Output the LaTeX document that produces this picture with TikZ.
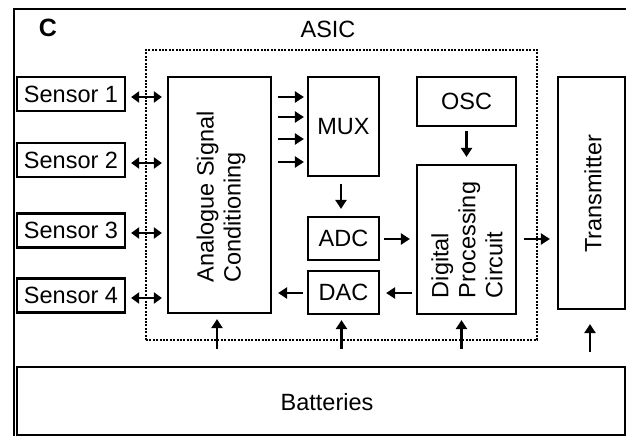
\documentclass[tikz,border=0pt]{standalone}
\usepackage{fontspec}
\setmainfont{Liberation Sans}
\usetikzlibrary{arrows.meta}
\begin{document}
\begin{tikzpicture}[x=1pt,y=-1pt,
  box/.style={draw,line width=2.2pt,rectangle,inner sep=0pt,fill=white},
  txt/.style={font=\fontsize{23.5}{27}\selectfont},
  clbl/.style={font=\fontsize{25}{28}\selectfont\bfseries},
  arr/.style={line width=2.9pt,-{Triangle[length=9pt,width=11pt]}},
  dbl/.style={line width=2.9pt,{Triangle[length=8pt,width=11pt]}-{Triangle[length=8pt,width=11pt]}},
  asicline/.style={line width=2pt,dash pattern=on 2pt off 1.4pt}]
\useasboundingbox (0,0) rectangle (626,436);
% outer frame
\coordinate (fa) at (14,436);
\coordinate (fb) at (14,9);
\coordinate (fc) at (626,9);
\draw[line width=2.8pt] (fa) -- (fb) -- (fc);
\node[clbl] (lc) at (48,28) {C};
\node[txt] (asiclbl) at (328,29) {ASIC};
% ASIC dotted box
\node[asicline,draw,rectangle,minimum width=391pt,minimum height=290pt,inner sep=0pt] (asic) at (341.5,195) {};
% sensors
\node[box,txt,minimum width=108pt,minimum height=34pt] (s1) at (71,94) {Sensor 1};
\node[box,txt,minimum width=108pt,minimum height=34pt] (s2) at (71,160) {Sensor 2};
\node[box,txt,minimum width=108pt,minimum height=34pt] (s3) at (71,230.5) {Sensor 3};
\node[box,txt,minimum width=108pt,minimum height=34pt] (s4) at (71,295.5) {Sensor 4};
% blocks
\node[box,minimum width=103pt,minimum height=236pt] (asc) at (219.5,195) {};
\node[txt,rotate=90,align=left] (asct) at (221,197) {Analogue Signal\\Conditioning};
\node[box,txt,minimum width=71pt,minimum height=99pt] (mux) at (343.5,126.5) {MUX};
\node[box,txt,minimum width=71pt,minimum height=43pt] (adc) at (343.5,238.5) {ADC};
\node[box,txt,minimum width=71pt,minimum height=43pt] (dac) at (343.5,292.5) {DAC};
\node[box,txt,minimum width=99pt,minimum height=49pt] (osc) at (466.5,101.5) {OSC};
\node[box,minimum width=99pt,minimum height=149pt] (dpc) at (466.5,239.5) {};
\node[txt,rotate=90,align=left] (dpct) at (467,240) {Digital\\Processing\\Circuit};
\node[box,minimum width=67pt,minimum height=232pt] (tx) at (591.5,193) {};
\node[txt,rotate=90] (txt1) at (593,194) {Transmitter};
\node[box,txt,minimum width=608pt,minimum height=68pt] (bat) at (321,401) {};
\node[txt] (batt) at (327,402) {Batteries};
% sensor double arrows
\draw[dbl,shorten <=5pt,shorten >=5pt] (s1.east |- 0,97) -- (asc.west |- 0,97);
\draw[dbl,shorten <=5pt,shorten >=5pt] (s2.east |- 0,163) -- (asc.west |- 0,163);
\draw[dbl,shorten <=5pt,shorten >=5pt] (s3.east |- 0,233) -- (asc.west |- 0,233);
\draw[dbl,shorten <=5pt,shorten >=5pt] (s4.east |- 0,298) -- (asc.west |- 0,298);
% ASC -> MUX
\foreach \yy in {97,117,139,162}
  \draw[arr,shorten <=6pt,shorten >=3pt] (asc.east |- 0,\yy) -- (mux.west |- 0,\yy);
% MUX -> ADC
\draw[arr,shorten <=7pt,shorten >=7pt] (mux.south -| 341,0) -- (adc.north -| 341,0);
% ADC -> DPC
\draw[arr,shorten <=4pt,shorten >=6pt] (adc.east |- 0,239) -- (dpc.west |- 0,239);
% DPC -> DAC
\draw[arr,shorten <=4pt,shorten >=6pt] (dpc.west |- 0,293) -- (dac.east |- 0,293);
% DAC -> ASC
\draw[arr,shorten <=4pt,shorten >=6pt] (dac.west |- 0,293) -- (asc.east |- 0,293);
% OSC -> DPC
\draw[arr,shorten <=4pt,shorten >=7pt] (osc.south) -- (dpc.north);
% DPC -> TX
\draw[arr,shorten <=7pt,shorten >=7pt] (dpc.east |- 0,239) -- (tx.west |- 0,239);
% battery supply arrows
\draw[arr,shorten <=17pt,shorten >=5pt] (bat.north -| 217,0) -- (asc.south -| 217,0);
\draw[arr,shorten <=17pt,shorten >=5pt] (bat.north -| 341.5,0) -- (dac.south -| 341.5,0);
\draw[arr,shorten <=17pt,shorten >=5pt] (bat.north -| 461.5,0) -- (dpc.south -| 461.5,0);
\draw[arr,shorten <=14pt,shorten >=14pt] (bat.north -| 590,0) -- (tx.south -| 590,0);
\end{tikzpicture}
\end{document}
